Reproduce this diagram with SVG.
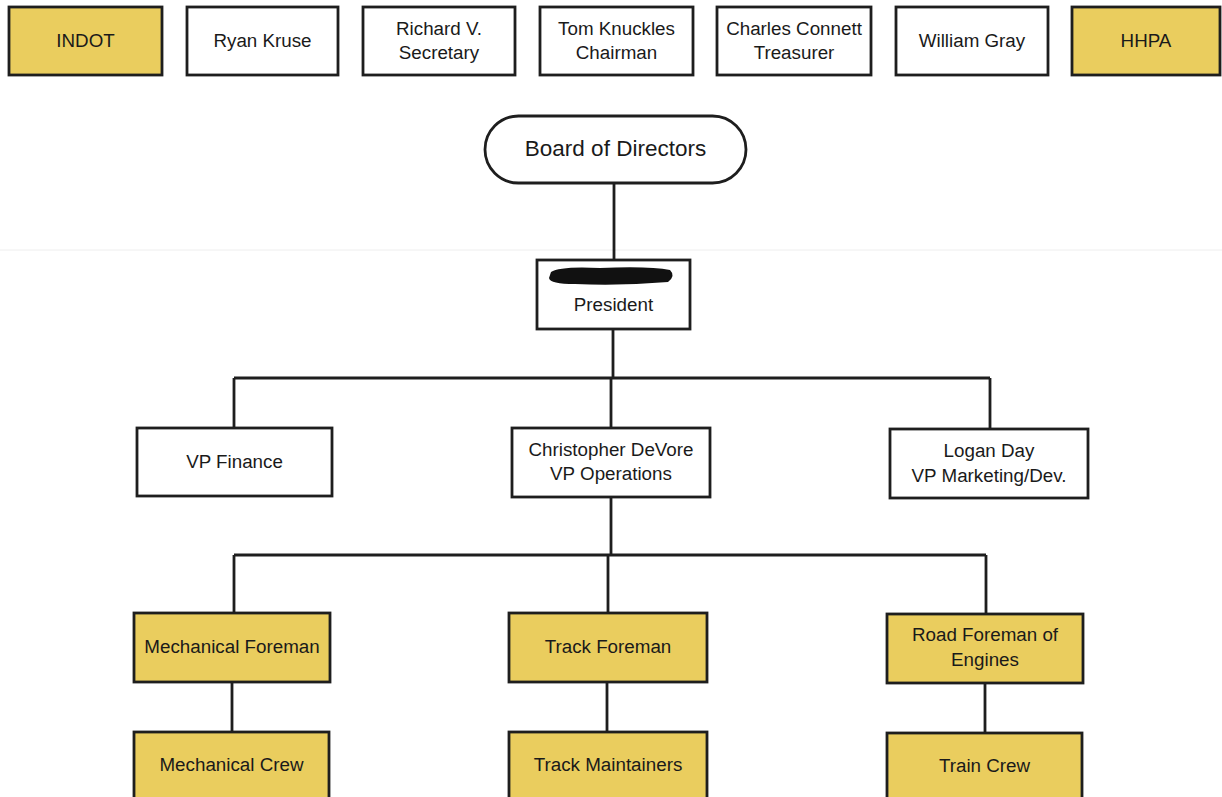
<svg xmlns="http://www.w3.org/2000/svg" width="1222" height="797" viewBox="0 0 1222 797">
<style>
.box{stroke:#1e1e1e;stroke-width:2.8;}
.w{fill:#ffffff;}
.y{fill:#EACD5E;}
text{font-family:"Liberation Sans",Arial,sans-serif;font-size:18.8px;fill:#1a1a1a;text-anchor:middle;dominant-baseline:central;}
.big{font-size:22.5px;}
.con{stroke:#1e1e1e;stroke-width:2.8;fill:none;}
</style>
<rect width="1222" height="797" fill="#ffffff"/>
<line x1="0" y1="250" x2="1222" y2="250" stroke="#eeeeee" stroke-width="1"/>
<g id="connectors">
<path class="con" d="M614 182 V260"/>
<path class="con" d="M613 330 V378 M234 378 H990 M234 378 V428 M611 378 V428 M990 378 V429"/>
<path class="con" d="M611 497 V555 M234 555 H986 M234 555 V613 M608 555 V613 M986 555 V614"/>
<path class="con" d="M232 682 V732 M607 682 V732 M985 683 V733"/>
</g>
<g id="indot"><rect class="box y" x="9" y="7" width="153" height="68"/><text x="85.5" y="40">INDOT</text></g>
<g id="ryan"><rect class="box w" x="187" y="7" width="151" height="68"/><text x="262.5" y="40">Ryan Kruse</text></g>
<g id="richard"><rect class="box w" x="363" y="7" width="152" height="68"/><text x="439" y="28">Richard V.</text><text x="439" y="52">Secretary</text></g>
<g id="tom"><rect class="box w" x="540" y="7" width="153" height="68"/><text x="616.5" y="28">Tom Knuckles</text><text x="616.5" y="52">Chairman</text></g>
<g id="charles"><rect class="box w" x="717" y="7" width="154" height="68"/><text x="794" y="28">Charles Connett</text><text x="794" y="52">Treasurer</text></g>
<g id="william"><rect class="box w" x="896" y="7" width="152" height="68"/><text x="972" y="40">William Gray</text></g>
<g id="hhpa"><rect class="box y" x="1072" y="7" width="148" height="68"/><text x="1146" y="40">HHPA</text></g>
<g id="board"><rect class="box w" x="485" y="116" width="261" height="67" rx="33.5"/><text class="big" x="615.5" y="148">Board of Directors</text></g>
<g id="president"><rect class="box w" x="537" y="260" width="153" height="69"/><path d="M551 272 Q560 266 600 268 Q650 266 670 270 Q676 276 668 282 Q620 286 575 284 Q550 284 549 278 Z" fill="#111"/><text x="613.5" y="304">President</text></g>
<g id="vpfinance"><rect class="box w" x="137" y="428" width="195" height="68"/><text x="234.5" y="461">VP Finance</text></g>
<g id="vpops"><rect class="box w" x="512" y="428" width="198" height="69"/><text x="611" y="449">Christopher DeVore</text><text x="611" y="473">VP Operations</text></g>
<g id="vpmarketing"><rect class="box w" x="890" y="429" width="198" height="69"/><text x="989" y="450">Logan Day</text><text x="989" y="475">VP Marketing/Dev.</text></g>
<g id="mechforeman"><rect class="box y" x="134" y="613" width="196" height="69"/><text x="232" y="646">Mechanical Foreman</text></g>
<g id="trackforeman"><rect class="box y" x="509" y="613" width="198" height="69"/><text x="608" y="646">Track Foreman</text></g>
<g id="roadforeman"><rect class="box y" x="887" y="614" width="196" height="69"/><text x="985" y="634">Road Foreman of</text><text x="985" y="659">Engines</text></g>
<g id="mechcrew"><rect class="box y" x="134" y="732" width="195" height="80"/><text x="231.5" y="764">Mechanical Crew</text></g>
<g id="trackmaint"><rect class="box y" x="509" y="732" width="198" height="80"/><text x="608" y="764">Track Maintainers</text></g>
<g id="traincrew"><rect class="box y" x="887" y="733" width="195" height="80"/><text x="984.5" y="765">Train Crew</text></g>
</svg>
